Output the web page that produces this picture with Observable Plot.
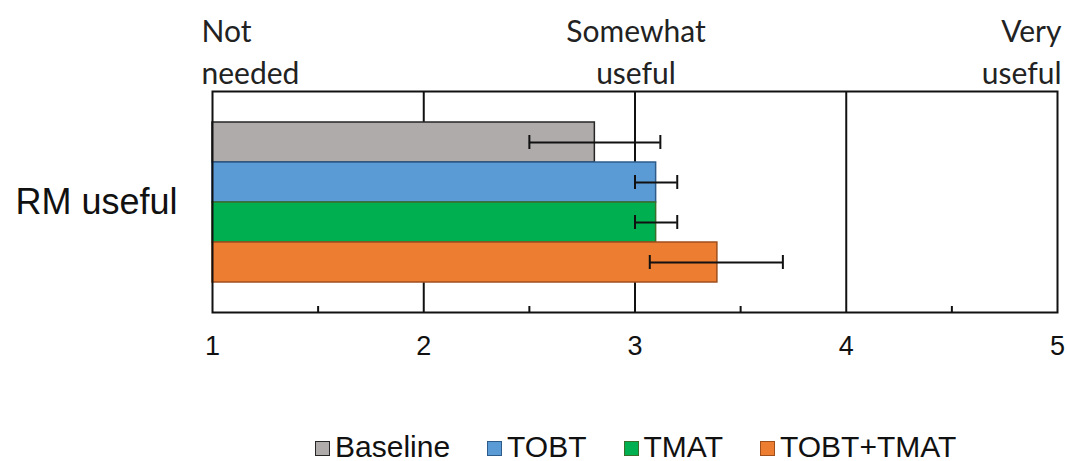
<!DOCTYPE html>
<html>
<head>
<meta charset="utf-8">
<script src="https://cdn.jsdelivr.net/npm/d3@7"></script>
<script src="https://cdn.jsdelivr.net/npm/@observablehq/plot@0.6"></script>
<style>
  html, body { margin: 0; padding: 0; background: #fff; overflow: hidden; }
  #chart { position: relative; width: 1067px; height: 461px; }
  #legend {
    position: absolute; left: 315px; top: 434px; height: 26px;
    display: flex; align-items: center; gap: 37px;
    font-family: "Liberation Sans", Arial, sans-serif; font-size: 30px; line-height: 26px;
    color: #111; box-sizing: border-box; white-space: nowrap;
  }
  .item { display: flex; align-items: center; gap: 5px; height: 26px; }
  .sw { width: 13px; height: 13px; border: 1.5px solid #333; margin-top: 3px; }
</style>
</head>
<body>
<div id="chart"></div>
<script>
// ---- data ----
const category = "RM useful";
const series = ["Baseline", "TOBT", "TMAT", "TOBT+TMAT"];
const means = [2.81, 3.10, 3.10, 3.39];
const lows = [2.50, 3.00, 3.00, 3.07];
const highs = [3.12, 3.20, 3.20, 3.70];
const fills = ["#AFABAB", "#5B9BD5", "#00B050", "#ED7D31"];
const borders = ["#262626", "#2E5C8A", "#3B6E2A", "#9E4F1C"];
const scaleMin = 1;
const xTicks = [1, 2, 3, 4, 5];
const gridValues = [2, 3, 4];
const minorTicks = [1.5, 2.5, 3.5, 4.5];
const topLabelValues = [1, 3, 5];
const topLabels = ["Not\nneeded", "Somewhat\nuseful", "Very\nuseful"];

const rows = series.map((s, i) => ({
  series: s, mean: means[i], lo: lows[i], hi: highs[i], fill: fills[i], border: borders[i], base: scaleMin
}));
const topRows = topLabelValues.map((v, i) => ({x: v, label: topLabels[i]}));

const chart = Plot.plot({
  width: 1067,
  height: 420,
  marginLeft: 212,
  marginRight: 10,
  marginTop: 91,
  marginBottom: 108,
  style: {fontFamily: "'Liberation Sans', Arial, sans-serif", fontSize: "27px", color: "#111", background: "#fff"},
  x: {domain: [1, 5], ticks: xTicks, tickSize: 0, tickPadding: 23, label: null, tickFormat: d3.format("d")},
  y: {domain: series, paddingInner: 0, paddingOuter: 0.745, axis: null},
  color: {type: "identity"},
  marks: [
    Plot.ruleX(gridValues, {stroke: "#111", strokeWidth: 2}),
    Plot.barX(rows, {y: "series", x1: "base", x2: "mean", fill: "fill", stroke: "border", strokeWidth: 1.5, inset: 0}),
    Plot.ruleY(rows, {y: "series", x1: "lo", x2: "hi", stroke: "#111", strokeWidth: 2}),
    Plot.tickX(rows, {y: "series", x: "lo", stroke: "#111", strokeWidth: 2, insetTop: 13, insetBottom: 13}),
    Plot.tickX(rows, {y: "series", x: "hi", stroke: "#111", strokeWidth: 2, insetTop: 13, insetBottom: 13}),
    Plot.frame({stroke: "#111", strokeWidth: 2}),
    Plot.tickX(minorTicks, {x: d => d, stroke: "#111", strokeWidth: 2, insetTop: 215}),
    Plot.text([category], {frameAnchor: "left", text: d => d, textAnchor: "end", dx: -35,
      fontSize: 36, fontFamily: "'Liberation Sans', Arial, sans-serif", fill: "#111"}),
    Plot.text(topRows.filter(d => d.x === 1), {x: "x", text: "label", frameAnchor: "top", lineAnchor: "bottom",
      textAnchor: "start", dx: -11, dy: -8, lineHeight: 1.37, fontSize: 30, fontFamily: "Lato, sans-serif", fill: "#222"}),
    Plot.text(topRows.filter(d => d.x === 3), {x: "x", text: "label", frameAnchor: "top", lineAnchor: "bottom",
      textAnchor: "middle", dx: 1, dy: -8, lineHeight: 1.37, fontSize: 30, fontFamily: "Lato, sans-serif", fill: "#222"}),
    Plot.text(topRows.filter(d => d.x === 5), {x: "x", text: "label", frameAnchor: "top", lineAnchor: "bottom",
      textAnchor: "end", dx: 4, dy: -8, lineHeight: 1.37, fontSize: 30, fontFamily: "Lato, sans-serif", fill: "#222"})
  ]
});

const container = document.getElementById("chart");
container.appendChild(chart);

const legend = document.createElement("div");
legend.id = "legend";
series.forEach((s, i) => {
  const item = document.createElement("div");
  item.className = "item";
  const sw = document.createElement("div");
  sw.className = "sw";
  sw.style.background = fills[i];
  sw.style.borderColor = borders[i];
  const label = document.createElement("span");
  label.textContent = s;
  item.appendChild(sw);
  item.appendChild(label);
  legend.appendChild(item);
});
container.appendChild(legend);
</script>
</body>
</html>
